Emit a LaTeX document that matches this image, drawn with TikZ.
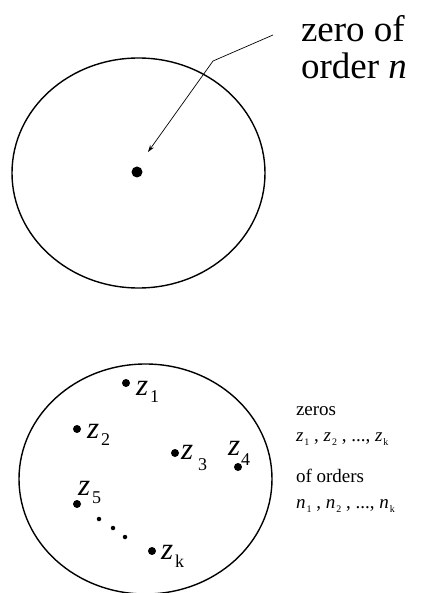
\documentclass[tikz,border=0pt]{standalone}
\usepackage{fontspec}
\setmainfont{Liberation Serif}[Ligatures=TeX]
\newfontfamily\tms{Liberation Serif}
\usetikzlibrary{arrows.meta}
\newcommand\zsub[4]{{\fontsize{31}{31}\selectfont\textit{#1}}\kern#4\raisebox{-#3}{\fontsize{18}{18}\selectfont #2}}
\newcommand\ssub[2]{\textit{#1}\kern1pt\raisebox{-4pt}{\fontsize{10}{10}\selectfont #2}}
\tikzset{
  region/.style={line width=1.4pt},
  bigdot/.style={circle,fill=black,inner sep=0pt,minimum size=8pt},
  hugedot/.style={circle,fill=black,inner sep=0pt,minimum size=11pt},
  tinydot/.style={circle,fill=black,inner sep=0pt,minimum size=4.5pt},
  lbl/.style={anchor=base west,inner sep=0pt,outer sep=0pt,font=\tms},
  pointer/.style={line width=0.7pt,-{Stealth[length=7pt,width=4.5pt]}}
}
\begin{document}
\begin{tikzpicture}[x=1pt,y=-1pt]
\useasboundingbox (0,0) rectangle (422,593);
% top region
\draw[region] (138.5,173) ellipse [x radius=126.5pt, y radius=115pt];
\node[hugedot] (dot0) at (137,172) {};
\node[lbl] (t1) at (301,42) {\fontsize{37}{37}\selectfont zero of};
\node[lbl] (t2) at (301,79) {\fontsize{37}{37}\selectfont order \textit{n}};
\coordinate (astart) at (273,35);
\coordinate (abend) at (213,61);
\coordinate (atip) at (148,152);
\draw[pointer] (astart) -- (abend) -- (atip);
% bottom region
\draw[region] (145.5,479) ellipse [x radius=126.5pt, y radius=115pt];
\node[bigdot] (d1) at (126,383) {};
\node[bigdot] (d2) at (77,429) {};
\node[bigdot] (d3) at (175,453) {};
\node[bigdot] (d4) at (238,467) {};
\node[bigdot] (d5) at (77,504) {};
\node[tinydot] (e1) at (99,519) {};
\node[tinydot] (e2) at (113,528) {};
\node[tinydot] (e3) at (125,537) {};
\node[bigdot] (dk) at (152,551) {};
\node[lbl] (l1) at (136,395) {\zsub{z}{1}{7pt}{2pt}};
\node[lbl] (l2) at (87,438) {\zsub{z}{2}{7pt}{2pt}};
\node[lbl] (l3) at (181,459) {\zsub{z}{3}{11pt}{5pt}};
\node[lbl] (l4) at (228,455) {\zsub{z}{4}{10pt}{1pt}};
\node[lbl] (l5) at (78,495) {\zsub{z}{5}{8pt}{2pt}};
\node[lbl] (lk) at (161,559) {\zsub{z}{k}{8pt}{2pt}};
% legend
\node[lbl] (r1) at (296,415) {\fontsize{19}{19}\selectfont zeros};
\node[lbl] (r2) at (296,441) {\fontsize{19}{19}\selectfont \ssub{z}{1} , \ssub{z}{2} , ..., \ssub{z}{k}};
\node[lbl] (r3) at (296,482) {\fontsize{19}{19}\selectfont of orders};
\node[lbl] (r4) at (296,508) {\fontsize{19}{19}\selectfont \ssub{n}{1} , \ssub{n}{2} , ..., \ssub{n}{k}};
\end{tikzpicture}
\end{document}
